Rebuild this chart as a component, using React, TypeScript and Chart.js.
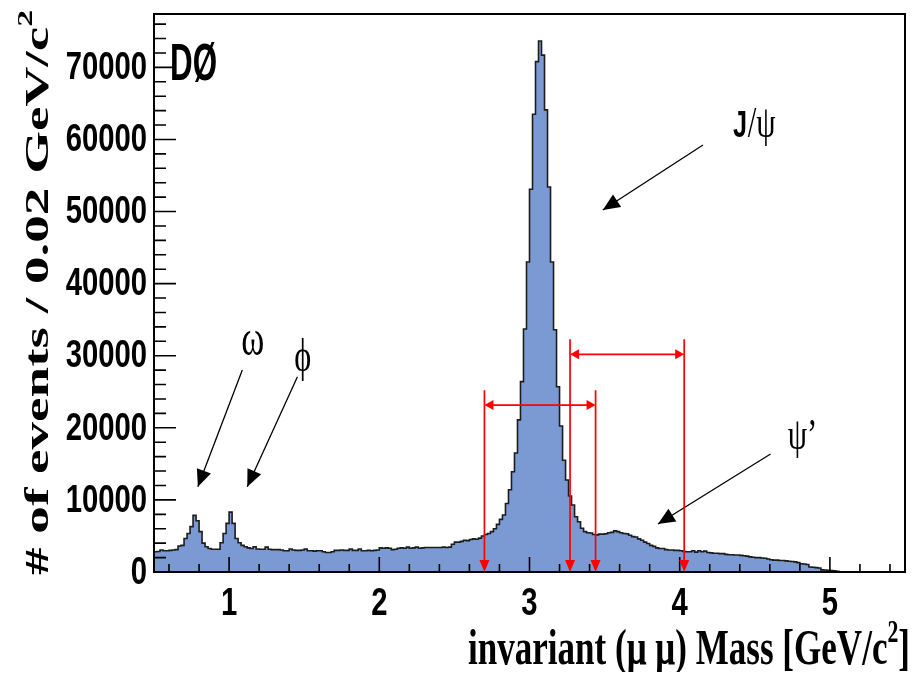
import React, { useEffect, useRef } from "react";
import { Chart, registerables } from "chart.js";

Chart.register(...registerables);

// ---- histogram: dimuon invariant mass, 0.02 GeV/c^2 bins starting at 0.5 ----
const BIN_LOW = 0.5;
const BIN_WIDTH = 0.02;
const COUNTS: number[] = [
  2800, 2850, 3050, 2950, 2950, 3000, 3050, 3100, 3600, 3700,
  4650, 5350, 6300, 7850, 7100, 5600, 4000, 3500, 3250, 3150,
  3150, 3150, 4050, 5350, 6750, 8300, 6750, 4650, 4050, 3700,
  3500, 3350, 3250, 3500, 3200, 3150, 3150, 3450, 3150, 3100,
  3100, 3100, 3050, 2950, 2950, 3200, 3050, 3000, 3000, 3050,
  3200, 2950, 2950, 2900, 2950, 2950, 2800, 2700, 2700, 2800,
  3000, 3000, 3050, 3000, 3000, 3200, 3000, 3000, 3200, 2950,
  2950, 3000, 2950, 3000, 3050, 3350, 3300, 3350, 3300, 3100,
  3150, 3300, 3350, 3300, 3450, 3300, 3350, 3450, 3300, 3350,
  3400, 3400, 3400, 3400, 3400, 3400, 3450, 3400, 3450, 3850,
  4150, 4150, 4250, 4400, 4350, 4500, 4600, 4550, 4700, 5000,
  5200, 5350, 5600, 6000, 6600, 7300, 7900, 9500, 11400, 13900,
  16500, 21100, 26400, 33700, 43000, 53100, 63500, 70800, 73650, 71700,
  64100, 53400, 43000, 33600, 25700, 20250, 15500, 12760, 10540, 9300,
  7670, 6980, 6060, 5600, 5450, 5400, 5200, 5150, 5250, 5250,
  5300, 5450, 5500, 5700, 5600, 5450, 5350, 5300, 5100, 4900,
  4850, 4600, 4400, 4150, 3950, 3700, 3550, 3350, 3250, 3250,
  3100, 3050, 3050, 3000, 3000, 2950, 2850, 2800, 2800, 2950,
  2750, 2950, 2800, 2900, 2700, 2650, 2600, 2600, 2550, 2550,
  2450, 2400, 2400, 2350, 2350, 2300, 2250, 2200, 2100, 2050,
  2000, 2000, 1950, 1900, 1800, 1700, 1650, 1650, 1600, 1600,
  1550, 1500, 1450, 1400, 1300, 1150, 1100, 1050, 700, 650,
  600, 550, 300, 280, 250, 200, 150, 80, 40, 20,
  0, 0, 0, 0, 0, 0, 0, 0, 0, 0,
  0, 0, 0, 0, 0, 0, 0, 0, 0, 0,
];

// ---- axes ----
const X_MIN = 0.5;
const X_MAX = 5.5;
const Y_MIN = 0;
const Y_MAX = 77400;
const X_MAJOR_TICKS = [1, 2, 3, 4, 5];
const X_TICK_LABELS = ["1", "2", "3", "4", "5"];
const X_MINOR_TICKS = [0.6, 0.8, 1.2, 1.4, 1.6, 1.8, 2.2, 2.4, 2.6, 2.8, 3.2, 3.4, 3.6, 3.8, 4.2, 4.4, 4.6, 4.8, 5.2, 5.4];
const Y_MAJOR_TICKS = [0, 10000, 20000, 30000, 40000, 50000, 60000, 70000];
const Y_TICK_LABELS = ["0", "10000", "20000", "30000", "40000", "50000", "60000", "70000"];
const Y_MINOR_STEP = 2000;

const X_TITLE = "invariant (μ μ) Mass [GeV/c";
const Y_TITLE = "# of events / 0.02 GeV/c";
const EXPERIMENT = "DØ";

// ---- red mass windows ----
const WINDOW_LOW = [2.7, 3.27];
const WINDOW_HIGH = [3.44, 4.03];
const WINDOW_TOP = [25200, 32300];
const WINDOW_ARROW = [23160, 30200];

// ---- resonance labels & arrows ----
const PEAK_NAMES = ["ω", "ϕ", "J/ψ", "ψ’"];
const PEAK_LABEL_X = [1.157, 1.49, 4.355, 4.72];
const PEAK_LABEL_Y = [30100, 27880, 60330, 17060];
const ARROW_FROM_X = [1.088, 1.455, 4.155, 4.605];
const ARROW_FROM_Y = [28020, 27090, 59220, 16370];
const ARROW_TO_X = [0.792, 1.121, 3.488, 3.855];
const ARROW_TO_Y = [11830, 11830, 50210, 6660];

const SANS = '"Liberation Sans", Arial, sans-serif';
const SERIF = '"Liberation Serif", "Times New Roman", serif';

function fitText(ctx: CanvasRenderingContext2D, text: string, font: string) {
  ctx.font = font;
  return ctx.measureText(text).width;
}

function drawArrowHead(ctx: CanvasRenderingContext2D, tx: number, ty: number, fx: number, fy: number, len: number, half: number) {
  const ang = Math.atan2(ty - fy, tx - fx);
  const bx = tx - len * Math.cos(ang);
  const by = ty - len * Math.sin(ang);
  ctx.beginPath();
  ctx.moveTo(tx, ty);
  ctx.lineTo(bx + half * Math.sin(ang), by - half * Math.cos(ang));
  ctx.lineTo(bx - half * Math.sin(ang), by + half * Math.cos(ang));
  ctx.closePath();
  ctx.fill();
}

const overlay = {
  id: "overlay",
  afterDatasetsDraw(chart: any) {
    const ctx: CanvasRenderingContext2D = chart.ctx;
    const xs = chart.scales.x;
    const ys = chart.scales.y;
    const { left, right, top, bottom } = chart.chartArea;
    const px = (v: number) => xs.getPixelForValue(v);
    const py = (v: number) => ys.getPixelForValue(v);

    ctx.save();
    ctx.fillStyle = "#000";
    ctx.strokeStyle = "#000";

    // ticks (inside the frame)
    ctx.lineWidth = 1.6;
    ctx.beginPath();
    const nY = Math.floor((Y_MAX - Y_MIN) / Y_MINOR_STEP);
    for (let k = 1; k <= nY; k++) {
      const v = Y_MIN + k * Y_MINOR_STEP;
      const y = py(v);
      const major = v % 10000 === 0;
      ctx.moveTo(left, y);
      ctx.lineTo(left + (major ? 22 : 12), y);
    }
    for (const v of X_MAJOR_TICKS) {
      const x = px(v);
      ctx.moveTo(x, bottom);
      ctx.lineTo(x, bottom - 15);
    }
    for (const v of X_MINOR_TICKS) {
      const x = px(v);
      ctx.moveTo(x, bottom);
      ctx.lineTo(x, bottom - 8);
    }
    ctx.stroke();

    // frame
    ctx.lineWidth = 2;
    ctx.strokeRect(left, top, right - left, bottom - top);

    // tick labels (condensed bold sans)
    const tickFont = `bold 39px ${SANS}`;
    const tickSx = 0.75;
    ctx.font = tickFont;
    ctx.textBaseline = "middle";
    Y_MAJOR_TICKS.forEach((v, i) => {
      ctx.save();
      ctx.translate(left - 7, py(v) + 1);
      ctx.scale(tickSx, 1);
      ctx.textAlign = "right";
      ctx.fillText(Y_TICK_LABELS[i], 0, 0);
      ctx.restore();
    });
    ctx.textBaseline = "top";
    X_MAJOR_TICKS.forEach((v, i) => {
      ctx.save();
      ctx.translate(px(v), bottom + 13);
      ctx.scale(tickSx, 1);
      ctx.textAlign = "center";
      ctx.fillText(X_TICK_LABELS[i], 0, 0);
      ctx.restore();
    });

    // x title (bold serif, condensed), right aligned
    {
      const size = 50;
      const F = `bold ${size}px ${SERIF}`;
      const Fs = `bold ${Math.round(size * 0.62)}px ${SERIF}`;
      const wMain = fitText(ctx, X_TITLE, F);
      const wSup = fitText(ctx, "2", Fs);
      const wBr = fitText(ctx, "]", F);
      const target = 442;
      const s = target / (wMain + wSup + wBr);
      ctx.save();
      ctx.translate(right + 5 - target, bottom + 92);
      ctx.scale(s, 1);
      ctx.textAlign = "left";
      ctx.textBaseline = "alphabetic";
      ctx.font = F;
      ctx.fillText(X_TITLE, 0, 0);
      ctx.font = Fs;
      ctx.fillText("2", wMain, -size * 0.45);
      ctx.font = F;
      ctx.fillText("]", wMain + wSup, 0);
      ctx.restore();
    }

    // y title (bold serif, rotated)
    {
      const size = 54;
      const F = `bold ${size}px ${SERIF}`;
      const Fs = `bold ${Math.round(size * 0.62)}px ${SERIF}`;
      const wMain = fitText(ctx, Y_TITLE, F);
      const wSup = fitText(ctx, "2", Fs);
      const target = bottom + 1;
      const s = target / (wMain + wSup);
      ctx.save();
      ctx.translate(left - 106, bottom + 3);
      ctx.rotate(-Math.PI / 2);
      ctx.scale(s, 0.64);
      ctx.textAlign = "left";
      ctx.textBaseline = "alphabetic";
      ctx.font = F;
      ctx.fillText(Y_TITLE, 0, 0);
      ctx.font = Fs;
      ctx.fillText("2", wMain, -size * 0.45);
      ctx.restore();
    }

    // experiment label
    {
      const F = `bold 52px ${SANS}`;
      const w = fitText(ctx, EXPERIMENT, F);
      ctx.save();
      ctx.translate(left + 16, top + 66);
      ctx.scale(47 / w, 1);
      ctx.textAlign = "left";
      ctx.textBaseline = "alphabetic";
      ctx.fillText(EXPERIMENT, 0, 0);
      ctx.restore();
    }

    // resonance labels
    PEAK_NAMES.forEach((name, i) => {
      const x = px(PEAK_LABEL_X[i]);
      const y = py(PEAK_LABEL_Y[i]);
      ctx.save();
      ctx.translate(x, y);
      ctx.scale(0.7, 1);
      ctx.textBaseline = "alphabetic";
      if (name.startsWith("J")) {
        ctx.textAlign = "left";
        ctx.font = `bold 36px ${SANS}`;
        ctx.fillText("J", 0, 0);
        const wj = ctx.measureText("J").width;
        ctx.font = `44px ${SERIF}`;
        ctx.fillText(name.slice(1), wj + 1, 0);
      } else if (i < 2) {
        ctx.textAlign = "center";
        ctx.font = `${i === 0 ? 50 : 46}px ${SERIF}`;
        ctx.fillText(name, 0, 0);
      } else {
        ctx.textAlign = "left";
        ctx.font = `44px ${SERIF}`;
        ctx.fillText(name, 0, 0);
      }
      ctx.restore();
    });

    // black arrows
    ctx.lineWidth = 1.3;
    for (let i = 0; i < ARROW_FROM_X.length; i++) {
      const fx = px(ARROW_FROM_X[i]);
      const fy = py(ARROW_FROM_Y[i]);
      const tx = px(ARROW_TO_X[i]);
      const ty = py(ARROW_TO_Y[i]);
      ctx.beginPath();
      ctx.moveTo(fx, fy);
      ctx.lineTo(tx, ty);
      ctx.stroke();
      drawArrowHead(ctx, tx, ty, fx, fy, 17, 7.5);
    }

    // red windows
    ctx.strokeStyle = "#ff0000";
    ctx.fillStyle = "#ff0000";
    ctx.lineWidth = 1.7;
    for (let i = 0; i < WINDOW_LOW.length; i++) {
      const x1 = px(WINDOW_LOW[i]);
      const x2 = px(WINDOW_HIGH[i]);
      const yTop = py(WINDOW_TOP[i]);
      const yArr = py(WINDOW_ARROW[i]);
      ctx.beginPath();
      ctx.moveTo(x1, yTop);
      ctx.lineTo(x1, bottom - 6);
      ctx.moveTo(x2, yTop);
      ctx.lineTo(x2, bottom - 6);
      ctx.moveTo(x1 + 4, yArr);
      ctx.lineTo(x2 - 4, yArr);
      ctx.stroke();
      drawArrowHead(ctx, x1, bottom, x1, yTop, 12, 5);
      drawArrowHead(ctx, x2, bottom, x2, yTop, 12, 5);
      drawArrowHead(ctx, x1, yArr, x2, yArr, 9, 5);
      drawArrowHead(ctx, x2, yArr, x1, yArr, 9, 5);
    }

    ctx.restore();
  },
};

export default function App() {
  const canvasRef = useRef<HTMLCanvasElement | null>(null);

  useEffect(() => {
    if (!canvasRef.current) return;
    const points = COUNTS.map((c, i) => ({ x: BIN_LOW + i * BIN_WIDTH, y: c }));
    points.push({ x: X_MAX, y: COUNTS[COUNTS.length - 1] });

    const chart = new Chart(canvasRef.current, {
      type: "line",
      data: {
        datasets: [
          {
            data: points,
            stepped: "before",
            fill: "origin",
            backgroundColor: "#7b9ad3",
            borderColor: "#1c1c1c",
            borderWidth: 1.6,
            pointRadius: 0,
            tension: 0,
          },
        ],
      },
      options: {
        animation: false,
        responsive: true,
        maintainAspectRatio: false,
        layout: { padding: { left: 146, top: 6, right: 10, bottom: 100 } },
        plugins: {
          legend: { display: false },
          tooltip: { enabled: false },
        },
        scales: {
          x: { type: "linear", min: X_MIN, max: X_MAX, display: false },
          y: { type: "linear", min: Y_MIN, max: Y_MAX, display: false },
        },
      },
      plugins: [overlay],
    });
    return () => chart.destroy();
  }, []);

  return (
    <div style={{ width: 907, height: 664, position: "relative" }}>
      <canvas ref={canvasRef} />
    </div>
  );
}
